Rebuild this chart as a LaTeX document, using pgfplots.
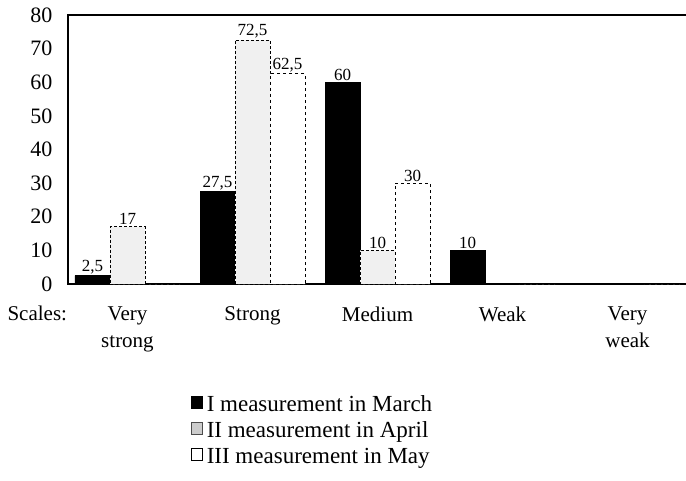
\documentclass[border=0pt]{standalone}
\usepackage{fontspec}
\setmainfont{Liberation Serif}
\usepackage{pgfplots}
\pgfplotsset{compat=1.18}
\begin{document}
\begin{tikzpicture}
\path[use as bounding box] (0pt,0pt) rectangle (686pt,480pt);
\begin{axis}[
  at={(68pt,196pt)}, anchor=south west,
  scale only axis, width=619pt, height=269pt,
  xmin=-0.476, xmax=4.476, ymin=0, ymax=80,
  ytick={0,10,...,80},
  xtick={0,1,2,3,4},
  xticklabels={{Very\\strong},Strong,Medium,Weak,{Very\\weak}},
  xticklabel style={align=center, font=\fontsize{21}{27}\selectfont, yshift=-19pt},
  yticklabel style={font=\fontsize{22}{24}\selectfont, xshift=-12pt},
  /pgf/number format/assume math mode=true,
  major tick length=0pt,
  ybar=0pt, bar width=0.28,
  axis line style={line width=1.2pt},
  nodes near coords={\pgfmathfloatifflags{\pgfplotspointmeta}{0}{}{\pgfmathprintnumber[use comma]{\pgfplotspointmeta}}},
  every node near coord/.append style={font=\fontsize{17}{18}\selectfont, inner sep=1.5pt, black},
  legend style={draw=none, fill=none, at={(0.193,-0.40)}, anchor=north west,
    font=\fontsize{23}{25}\selectfont, row sep=0pt,
    nodes={text height=16pt, text depth=7pt, inner sep=1.5pt},
    /tikz/every odd column/.style={column sep=3pt}},
  legend cell align=left,
  legend image code/.code={\draw[#1, solid, line width=0.6pt] (0pt,-2pt) rectangle (11pt,10pt);},
]
\addplot[fill=black, draw=black] coordinates {(0,2.5) (1,27.5) (2,60) (3,10) (4,0)};
\addplot[fill=gray!12, draw=black, densely dashed, line width=0.8pt,
  legend image code/.code={\draw[solid, fill=gray!40, draw=gray!60!black, line width=0.6pt] (0pt,-2pt) rectangle (11pt,10pt);}]
  coordinates {(0,17) (1,72.5) (2,10) (3,0) (4,0)};
\addplot[fill=white, draw=black, dashed, line width=0.8pt] coordinates {(0,0) (1,62.5) (2,30) (3,0) (4,0)};
\legend{I measurement in March, II measurement in April, III measurement in May}
\end{axis}
\node[anchor=base west, font=\fontsize{21}{27}\selectfont] at (4pt,160pt) {Scales:};
\end{tikzpicture}
\end{document}
